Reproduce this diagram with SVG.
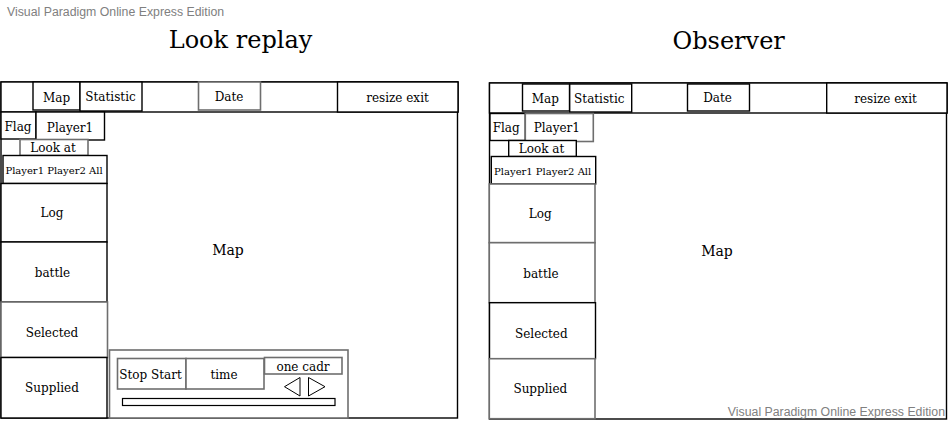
<svg xmlns="http://www.w3.org/2000/svg" width="950" height="423" viewBox="0 0 950 423">
<style>
rect{fill:#fff;stroke:#000;stroke-width:1.4}
rect.g{stroke:#6e6e6e;stroke-width:1.6}
.t{font-family:"DejaVu Serif","Liberation Serif",serif;font-size:12px;fill:#000;text-anchor:middle}
.s{font-size:10px}
.m{font-size:14px}
.h{font-size:24px}
.wm{font-family:"Liberation Sans",Arial,sans-serif;font-size:12.3px;fill:#808080}
polygon{fill:#fff;stroke:#000;stroke-width:1}
</style>
<rect x="0" y="0" width="950" height="423" style="stroke:none"/>
<text class="wm" x="7" y="16">Visual Paradigm Online Express Edition</text>

<g id="look-replay">
  <text class="t h" x="240.5" y="48">Look replay</text>
  <g id="lr-frame"><rect x="1" y="82" width="456.5" height="336"/></g>
  <g id="lr-topbar"><rect x="1" y="82" width="457" height="30"/></g>
  <g id="lr-map-tab"><rect x="33" y="82" width="47" height="28"/><text class="t" x="56.5" y="101.5">Map</text></g>
  <g id="lr-statistic"><rect x="80" y="82" width="62" height="29"/><text class="t" x="110.5" y="101">Statistic</text></g>
  <g id="lr-date"><rect class="g" x="198.5" y="82" width="62" height="28"/><text class="t" x="229" y="101">Date</text></g>
  <g id="lr-resize"><rect x="337.5" y="82" width="120.5" height="30"/><text class="t" x="397.5" y="102">resize exit</text></g>
  <g id="lr-flag"><rect x="1" y="112" width="35" height="27"/><text class="t" x="18" y="131">Flag</text></g>
  <g id="lr-player1"><rect x="36" y="112" width="68.5" height="28"/><text class="t" x="70" y="131.5">Player1</text></g>
  <g id="lr-lookat"><rect class="g" x="20" y="139.5" width="68" height="16"/><text class="t" x="53" y="152">Look at</text></g>
  <g id="lr-players"><rect x="3" y="155.5" width="104" height="28"/><text class="t s" x="54" y="174">Player1 Player2 All</text></g>
  <g id="lr-log"><rect x="1" y="183.5" width="106" height="58.5"/><text class="t" x="52" y="217">Log</text></g>
  <g id="lr-battle"><rect x="1" y="242" width="106" height="60"/><text class="t" x="52.5" y="277">battle</text></g>
  <g id="lr-selected"><rect class="g" x="1" y="302" width="106.5" height="55.5"/><text class="t" x="52" y="337">Selected</text></g>
  <g id="lr-supplied"><rect x="1" y="357.5" width="106" height="60.5"/><text class="t" x="52" y="391.5">Supplied</text></g>
  <text class="t m" x="228" y="255">Map</text>
  <g id="lr-controls">
    <rect class="g" x="109.5" y="350" width="238.5" height="68"/>
    <g id="lr-stopstart"><rect class="g" x="117.5" y="358.5" width="68.5" height="30.5"/><text class="t" x="150.5" y="379">Stop Start</text></g>
    <g id="lr-time"><rect class="g" x="186" y="358.5" width="78" height="30.5"/><text class="t" x="224" y="379">time</text></g>
    <g id="lr-onecadr"><rect class="g" x="264.5" y="357.5" width="77.5" height="16.5"/><text class="t" x="303" y="370.5">one cadr</text></g>
    <polygon points="300,377.5 300,396 284.5,386.7"/>
    <polygon points="308.5,377.5 308.5,396 325,386.7"/>
    <rect x="122.5" y="398.5" width="212.5" height="7" style="stroke-width:1.2"/>
  </g>
</g>

<g id="observer">
  <text class="t h" x="728.7" y="49">Observer</text>
  <g id="ob-frame"><rect x="489.5" y="83" width="457" height="336"/></g>
  <g id="ob-topbar"><rect x="489.5" y="83" width="457.5" height="30"/></g>
  <g id="ob-map-tab"><rect x="522.5" y="84" width="47" height="27"/><text class="t" x="545.3" y="103">Map</text></g>
  <g id="ob-statistic"><rect x="569.7" y="84" width="62" height="28"/><text class="t" x="599.3" y="102.5">Statistic</text></g>
  <g id="ob-date"><rect x="687.5" y="84" width="62" height="27"/><text class="t" x="717.5" y="101.5">Date</text></g>
  <g id="ob-resize"><rect x="826.7" y="83" width="120.3" height="30"/><text class="t" x="885.5" y="102.5">resize exit</text></g>
  <g id="ob-flag"><rect x="490" y="113.5" width="35.3" height="27"/><text class="t" x="506.2" y="131.5">Flag</text></g>
  <g id="ob-player1"><rect class="g" x="525.3" y="113.5" width="68" height="28"/><text class="t" x="556.8" y="132">Player1</text></g>
  <g id="ob-lookat"><rect x="508.7" y="140.5" width="67.6" height="16"/><text class="t" x="541.5" y="152.7">Look at</text></g>
  <g id="ob-players"><rect x="491.3" y="156.5" width="104.4" height="27.5"/><text class="t s" x="542.7" y="175">Player1 Player2 All</text></g>
  <g id="ob-log"><rect class="g" x="489.3" y="184" width="105.7" height="58.7"/><text class="t" x="540.2" y="218.3">Log</text></g>
  <g id="ob-battle"><rect class="g" x="489.3" y="242.7" width="105.7" height="60"/><text class="t" x="541" y="277.7">battle</text></g>
  <g id="ob-selected"><rect x="489.5" y="302.7" width="106" height="56"/><text class="t" x="541.3" y="337.7">Selected</text></g>
  <g id="ob-supplied"><rect class="g" x="489.3" y="358.7" width="105.7" height="60"/><text class="t" x="540.3" y="392.7">Supplied</text></g>
  <text class="t m" x="717" y="256">Map</text>
</g>
<text class="wm" x="945" y="416.3" style="text-anchor:end">Visual Paradigm Online Express Edition</text>
</svg>
